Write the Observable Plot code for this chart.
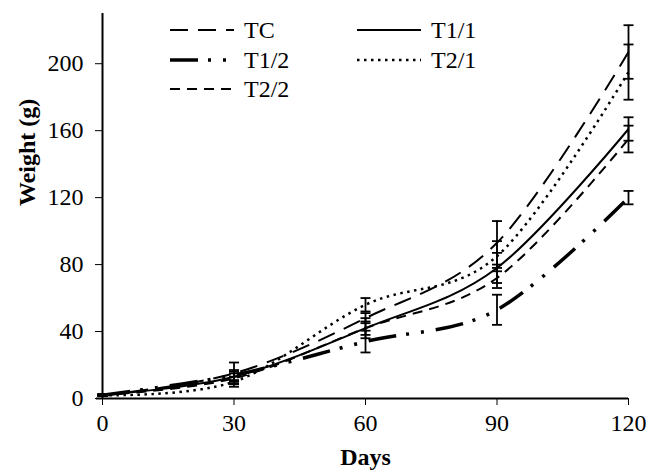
<!DOCTYPE html>
<html>
<head>
<meta charset="utf-8">
<script src="https://cdn.jsdelivr.net/npm/d3@7"></script>
<script src="https://cdn.jsdelivr.net/npm/@observablehq/plot@0.6"></script>
<style>
  html, body { margin: 0; padding: 0; background: #fff; }
  #chart { width: 650px; height: 473px; }
</style>
</head>
<body>
<div id="chart"></div>
<script>
// ---- data ----
const days = [0, 30, 60, 90, 120];
const seriesNames = ["TC", "T1/1", "T1/2", "T2/1", "T2/2"];
const tcWeight   = [2, 15, 48, 93, 207];
const t11Weight  = [2, 13, 42, 78, 161];
const t12Weight  = [2, 14, 34, 53, 120];
const t21Weight  = [2, 10, 56, 85, 195];
const t22Weight  = [2, 12, 42, 72, 155];
const tcErr  = [0.5, 6.5, 3, 13, 16];
const t11Err = [0.5, 3, 4, 9, 7];
const t12Err = [0.5, 3, 6.5, 9, 4];
const t21Err = [0.5, 3, 4, 9, 16.5];
const t22Err = [0.5, 3, 6, 6, 8];
const xTicks = [0, 30, 60, 90, 120];
const yTicks = [0, 40, 80, 120, 160, 200];

const weights = [tcWeight, t11Weight, t12Weight, t21Weight, t22Weight];
const errs = [tcErr, t11Err, t12Err, t21Err, t22Err];

// line styles per series
const styles = {
  "TC":   {strokeWidth: 2,   dash: "18,10", cap: "butt"},
  "T1/1": {strokeWidth: 2,   dash: null,    cap: "butt"},
  "T1/2": {strokeWidth: 3.5, dash: "28,10,3,12,3,12", cap: "butt"},
  "T2/1": {strokeWidth: 2.5, dash: "2.5,4.5", cap: "butt"},
  "T2/2": {strokeWidth: 2,   dash: "10,7",  cap: "butt"}
};

const rows = [];
seriesNames.forEach((s, i) => {
  days.forEach((d, j) => {
    rows.push({series: s, day: d, w: weights[i][j], lo: weights[i][j] - errs[i][j], hi: weights[i][j] + errs[i][j]});
  });
});

const capSymbol = {
  draw(context) { context.moveTo(-5, 0); context.lineTo(5, 0); }
};

const lineMarks = seriesNames.map(s => Plot.line(rows.filter(r => r.series === s), {
  x: "day", y: "w", curve: "cardinal",
  stroke: "black", strokeWidth: styles[s].strokeWidth,
  strokeDasharray: styles[s].dash || undefined,
  strokeLinecap: styles[s].cap
}));

// legend layout (inside the plot frame)
const legendItems = [
  {s: "TC",   x: 170, y: 30},
  {s: "T1/1", x: 357, y: 30},
  {s: "T1/2", x: 170, y: 60},
  {s: "T2/1", x: 357, y: 60},
  {s: "T2/2", x: 170, y: 89}
];
const legendMark = () => {
  const g = d3.create("svg:g");
  for (const it of legendItems) {
    const st = styles[it.s];
    g.append("line")
      .attr("x1", it.x).attr("x2", it.x + 64)
      .attr("y1", it.y).attr("y2", it.y)
      .attr("stroke", "black")
      .attr("stroke-width", st.strokeWidth)
      .attr("stroke-dasharray", st.dash)
      .attr("stroke-linecap", st.cap);
    g.append("text")
      .attr("x", it.x + 74).attr("y", it.y)
      .attr("dy", "0.34em")
      .attr("text-anchor", "start")
      .attr("font-family", "'Liberation Serif', 'Times New Roman', serif")
      .attr("font-size", 24)
      .attr("fill", "black")
      .text(it.s);
  }
  return g.node();
};

const chart = Plot.plot({
  width: 650,
  height: 473,
  marginLeft: 102,
  marginRight: 22,
  marginTop: 13,
  marginBottom: 75,
  style: {fontFamily: "'Liberation Serif', 'Times New Roman', serif", fontSize: "24px", color: "black", background: "white"},
  x: {domain: [0, 120], ticks: xTicks, tickSize: 7, tickPadding: 8, label: null},
  y: {domain: [0, 230], ticks: yTicks, tickSize: 7, tickPadding: 12, label: null},
  marks: [
    ...lineMarks,
    Plot.ruleX(rows, {x: "day", y1: "lo", y2: "hi", stroke: "black", strokeWidth: 1.8}),
    Plot.dot(rows, {x: "day", y: "hi", symbol: capSymbol, stroke: "black", strokeWidth: 1.8, fill: "none"}),
    Plot.dot(rows, {x: "day", y: "lo", symbol: capSymbol, stroke: "black", strokeWidth: 1.8, fill: "none"}),
    Plot.ruleX([0], {stroke: "black", strokeWidth: 2}),
    Plot.ruleY([0], {stroke: "black", strokeWidth: 2, insetLeft: -6}),
    Plot.text(["Days"], {frameAnchor: "bottom", dy: 66, fontWeight: "bold", fontSize: 24, fill: "black"}),
    Plot.text(["Weight (g)"], {frameAnchor: "left", dx: -75, rotate: -90, fontWeight: "bold", fontSize: 24, fill: "black"}),
    legendMark
  ]
});
document.getElementById("chart").appendChild(chart);
</script>
</body>
</html>
